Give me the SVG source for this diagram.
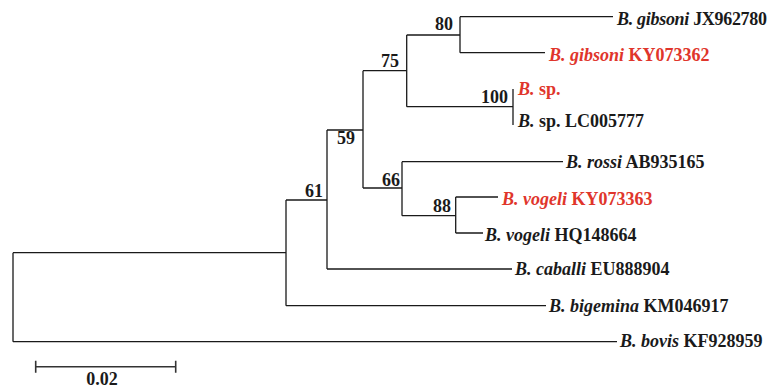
<svg xmlns="http://www.w3.org/2000/svg" width="771" height="391" viewBox="0 0 771 391">
  <style>
    text { font-family: "Liberation Serif", "Times New Roman", serif; font-size: 18px; font-weight: bold; fill: #1a1a1a; }
    .sp { font-style: italic; }
    .red, .red tspan { fill: #e0352b; }
    .boot { text-anchor: end; }
    .br { fill: none; stroke: #1a1a1a; stroke-width: 1.3; }
    .scale { fill: none; stroke: #333; stroke-width: 1.6; }
  </style>
  <rect width="771" height="391" fill="#fff"/>

  <!-- tree branches (rectangular cladogram with branch lengths) -->
  <g id="branches" class="br">
    <path d="M13,252.7 V341.7 M13,252.7 H286 M13,341.7 H617"/>
    <path d="M286,200 V305.7 M286,200 H327 M286,305.7 H546"/>
    <path d="M327,130 V269 M327,130 H363 M327,269 H512"/>
    <path d="M363,70.7 V188 M363,70.7 H406.7 M363,188 H402"/>
    <path d="M406.7,35 V106.7 M406.7,35 H460 M406.7,106.7 H513"/>
    <path d="M460,16.7 V52.7 M460,16.7 H613 M460,52.7 H545"/>
    <path d="M513,89 V125"/>
    <path d="M402,161.7 V215.7 M402,161.7 H563 M402,215.7 H455.7"/>
    <path d="M455.7,197 V233 M455.7,197 H498 M455.7,233 H483"/>
  </g>

  <!-- bootstrap support values -->
  <g id="bootstrap">
    <g id="bs-80"><text class="boot" x="453" y="30">80</text></g>
    <g id="bs-75"><text class="boot" x="399" y="67">75</text></g>
    <g id="bs-100"><text class="boot" x="508" y="103">100</text></g>
    <g id="bs-59"><text class="boot" x="355" y="143.5">59</text></g>
    <g id="bs-66"><text class="boot" x="400" y="186">66</text></g>
    <g id="bs-88"><text class="boot" x="451" y="212">88</text></g>
    <g id="bs-61"><text class="boot" x="323" y="197">61</text></g>
  </g>

  <!-- taxa -->
  <g id="taxa">
    <g id="gibsoni-JX962780"><text x="617" y="24.5" textLength="150" lengthAdjust="spacing"><tspan class="sp">B. gibsoni</tspan> JX962780</text></g>
    <g id="gibsoni-KY073362"><text class="red" x="549" y="61"><tspan class="sp">B. gibsoni</tspan> KY073362</text></g>
    <g id="b-sp"><text class="red" x="518" y="95"><tspan class="sp">B.</tspan> sp.</text></g>
    <g id="sp-LC005777"><text x="518" y="127"><tspan class="sp">B.</tspan> sp. LC005777</text></g>
    <g id="rossi-AB935165"><text x="566" y="168"><tspan class="sp">B. rossi</tspan> AB935165</text></g>
    <g id="vogeli-KY073363"><text class="red" x="502" y="205"><tspan class="sp">B. vogeli</tspan> KY073363</text></g>
    <g id="vogeli-HQ148664"><text x="485" y="241"><tspan class="sp">B. vogeli</tspan> HQ148664</text></g>
    <g id="caballi-EU888904"><text x="515" y="275"><tspan class="sp">B. caballi</tspan> EU888904</text></g>
    <g id="bigemina-KM046917"><text x="549" y="311.5"><tspan class="sp">B. bigemina</tspan> KM046917</text></g>
    <g id="bovis-KF928959"><text x="620" y="347"><tspan class="sp">B. bovis</tspan> KF928959</text></g>
  </g>

  <!-- scale bar -->
  <g id="scale-bar">
    <path class="scale" d="M35.7,366.7 H175.7 M35.7,360.7 V372.7 M175.7,360.7 V372.7"/>
    <text x="102" y="385" text-anchor="middle">0.02</text>
  </g>
</svg>
